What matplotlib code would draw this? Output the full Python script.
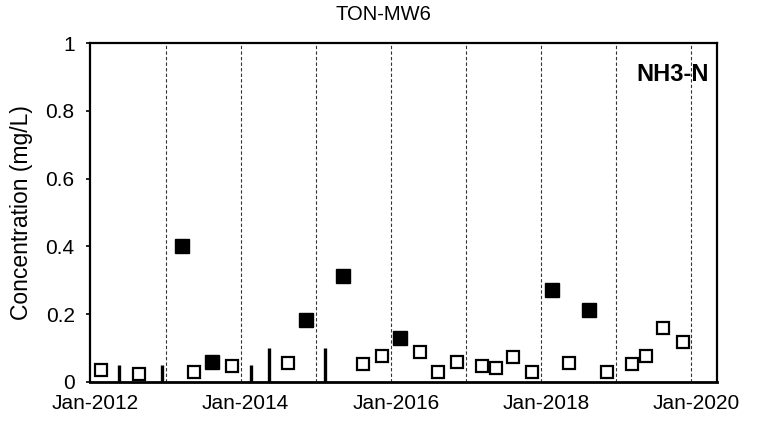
import pandas as pd
import matplotlib
matplotlib.use('Agg')
import matplotlib.pyplot as plt
import matplotlib.dates as mdates

plt.rcParams['font.family'] = ['Liberation Sans', 'DejaVu Sans']

# non-detects (open squares)
nd_dates = ['2012-01-26', '2012-07-31', '2013-04-26', '2013-10-28', '2014-07-27',
            '2015-07-27', '2015-10-25', '2016-04-28', '2016-07-26', '2016-10-26',
            '2017-02-22', '2017-05-01', '2017-07-26', '2017-10-26', '2018-04-25',
            '2018-10-26', '2019-02-25', '2019-05-01', '2019-07-26', '2019-10-31']
nd_values = [0.035, 0.025, 0.03, 0.047, 0.055,
             0.053, 0.078, 0.089, 0.03, 0.06,
             0.047, 0.042, 0.073, 0.03, 0.055,
             0.03, 0.053, 0.078, 0.158, 0.117]

# detects (filled squares)
det_dates = ['2013-02-26', '2013-07-22', '2014-10-21', '2015-04-21', '2016-01-22',
             '2018-01-29', '2018-07-31']
det_values = [0.40, 0.06, 0.183, 0.313, 0.13, 0.271, 0.212]

# bars
bar_dates = ['2012-04-25', '2012-11-21', '2014-01-27', '2014-04-24', '2015-01-22']
bar_values = [0.05, 0.05, 0.05, 0.1, 0.1]

# yearly dashed separators
sep_dates = ['2012-12-09', '2013-12-09', '2014-12-09', '2015-12-09',
             '2016-12-09', '2017-12-09', '2018-12-09', '2019-12-09']

nd_dates = pd.to_datetime(nd_dates)
det_dates = pd.to_datetime(det_dates)
bar_dates = pd.to_datetime(bar_dates)
sep_dates = pd.to_datetime(sep_dates)

fig = plt.figure(figsize=(7.62, 4.29), dpi=100)
ax = fig.add_axes([0.118, 0.1096, 0.823, 0.790])

for d in sep_dates:
    ax.axvline(d, color='#333333', linestyle=(0, (3, 2)), linewidth=0.8, zorder=1)

ax.vlines(bar_dates, 0, bar_values, color='black', linewidth=2.4, zorder=3)
ax.plot(nd_dates, nd_values, 's', markersize=9, markerfacecolor='white',
        markeredgecolor='black', markeredgewidth=1.6, zorder=4)
ax.plot(det_dates, det_values, 's', markersize=10, color='black', zorder=4)

ax.set_xlim(pd.Timestamp('2011-12-05'), pd.Timestamp('2020-04-12'))
ax.set_ylim(0, 1)
ax.set_yticks([0, 0.2, 0.4, 0.6, 0.8, 1])
ax.set_yticklabels(['0', '0.2', '0.4', '0.6', '0.8', '1'])
ax.set_xticks(pd.to_datetime(['2012-01-01', '2014-01-01', '2016-01-01',
                              '2018-01-01', '2020-01-01']))
ax.xaxis.set_major_formatter(mdates.DateFormatter('%b-%Y'))

ax.tick_params(axis='y', direction='out', length=3, width=1.2, pad=8, labelsize=15)
ax.tick_params(axis='x', length=0, pad=9, labelsize=15)
for s in ax.spines.values():
    s.set_linewidth(1.6)
ax.spines['bottom'].set_linewidth(2)

ax.set_ylabel('Concentration (mg/L)', fontsize=16.5, labelpad=9)
fig.text(0.503, 0.967, 'TON-MW6', ha='center', va='center', fontsize=14.5)
ax.text(0.987, 0.906, 'NH3-N', transform=ax.transAxes, ha='right', va='center',
        fontsize=17, fontweight='bold')

plt.savefig('out.png', dpi=100)
